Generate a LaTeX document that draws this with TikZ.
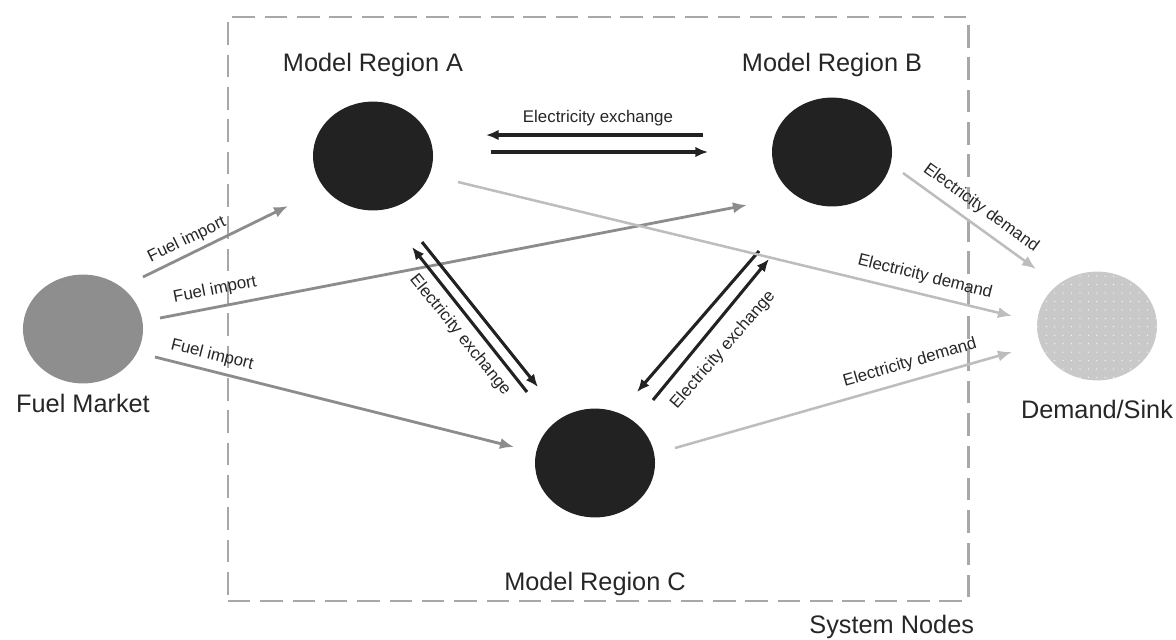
\documentclass[tikz,border=0pt]{standalone}
\usepackage{fontspec}
\setmainfont{Liberation Sans}
\usetikzlibrary{shapes.geometric,arrows.meta,positioning,patterns.meta}

\definecolor{regioncol}{HTML}{222222}
\definecolor{marketcol}{HTML}{8E8E8E}
\definecolor{sinkcol}{HTML}{C9C9C9}
\definecolor{fuelcol}{HTML}{8C8C8C}
\definecolor{demandcol}{HTML}{BDBDBD}
\definecolor{boxcol}{HTML}{A8A8A8}

\begin{document}
\begin{tikzpicture}[x=0.025cm, y=-0.025cm,
  region/.style={ellipse, minimum width=3cm, minimum height=2.72cm, inner sep=0pt, fill=regioncol},
  lbl/.style={inner sep=0pt, font=\fontsize{18}{21}\selectfont, text=black!85},
  flowlbl/.style={inner sep=0pt, font=\fontsize{12}{14}\selectfont, text=black!85},
  fuel/.style={draw=fuelcol, line width=2pt, -{Latex[length=10pt,width=8pt]}},
  demand/.style={draw=demandcol, line width=1.8pt, -{Latex[length=10pt,width=8pt]}},
  exch/.style={draw=regioncol, line width=2.2pt, -{Latex[length=9pt,width=7.5pt]}}]
\useasboundingbox (0,0) rectangle (1176,639);

% system boundary
\node[draw=boxcol, line width=2pt, dash pattern=on 16pt off 7pt, minimum width=18.5cm, minimum height=14.6cm] (sys) at (598,309) {};
\node[lbl, anchor=north east] (sys-lbl) at ([xshift=0.12cm, yshift=-0.3cm]sys.south east) {System Nodes};

% nodes
\node[ellipse, minimum width=3cm, minimum height=2.72cm, inner sep=0pt, fill=marketcol] (fm) at (83,329) {};
\node[region] (ra) at (373,156) {};
\node[region] (rb) at (832,152) {};
\node[region] (rc) at (595,463) {};
\node[ellipse, minimum width=3cm, minimum height=2.72cm, inner sep=0pt, fill=sinkcol,
      postaction={pattern={Dots[distance=6pt, radius=0.45pt]}, pattern color=white}] (ds) at (1097,326) {};

\node[lbl, below=0.25cm of fm] (fm-lbl) {Fuel Market};
\node[lbl, above=0.6cm of ra] (ra-lbl) {Model Region A};
\node[lbl, above=0.5cm of rb] (rb-lbl) {Model Region B};
\node[lbl, below=1.35cm of rc] (rc-lbl) {Model Region C};
\node[lbl, below=0.47cm of ds] (ds-lbl) {Demand/Sink};

% arrow ends
\coordinate (fa0) at (143,277); \coordinate (fa1) at (288,206);
\coordinate (fb0) at (160,318); \coordinate (fb1) at (747,205);
\coordinate (fc0) at (155,357); \coordinate (fc1) at (514,447);
\coordinate (ab0) at (703,135); \coordinate (ab1) at (486,135);
\coordinate (ba0) at (491,152); \coordinate (ba1) at (708,152);
\coordinate (ac0) at (422,242); \coordinate (ac1) at (538,387);
\coordinate (ca0) at (527,392); \coordinate (ca1) at (412,247);
\coordinate (bc0) at (759,251); \coordinate (bc1) at (637,392);
\coordinate (cb0) at (653,400); \coordinate (cb1) at (769,259);
\coordinate (da0) at (458,182); \coordinate (da1) at (1012,316);
\coordinate (db0) at (903,173); \coordinate (db1) at (1036,269);
\coordinate (dc0) at (675,448); \coordinate (dc1) at (1012,352);

% fuel imports
\draw[fuel] (fa0) -- (fa1);
\draw[fuel] (fb0) -- (fb1);
\draw[fuel] (fc0) -- (fc1);
\node[flowlbl, rotate=26] (fa-lbl) at (187,240) {Fuel import};
\node[flowlbl, rotate=11] (fb-lbl) at (215,290) {Fuel import};
\node[flowlbl, rotate=-14] (fc-lbl) at (212,355) {Fuel import};

% electricity exchange
\draw[exch] (ab0) -- (ab1);
\draw[exch] (ba0) -- (ba1);
\draw[exch] (ac0) -- (ac1);
\draw[exch] (ca0) -- (ca1);
\draw[exch] (bc0) -- (bc1);
\draw[exch] (cb0) -- (cb1);
\node[flowlbl] (ab-lbl) at (598,118) {Electricity exchange};
\node[flowlbl, rotate=-51] (ac-lbl) at (460,335) {Electricity exchange};
\node[flowlbl, rotate=49] (bc-lbl) at (723,350) {Electricity exchange};

% electricity demand
\draw[demand] (da0) -- (da1);
\draw[demand] (db0) -- (db1);
\draw[demand] (dc0) -- (dc1);
\node[flowlbl, rotate=-14] (da-lbl) at (925,277) {Electricity demand};
\node[flowlbl, rotate=-36] (db-lbl) at (981,208) {Electricity demand};
\node[flowlbl, rotate=16] (dc-lbl) at (910,363) {Electricity demand};
\end{tikzpicture}
\end{document}
